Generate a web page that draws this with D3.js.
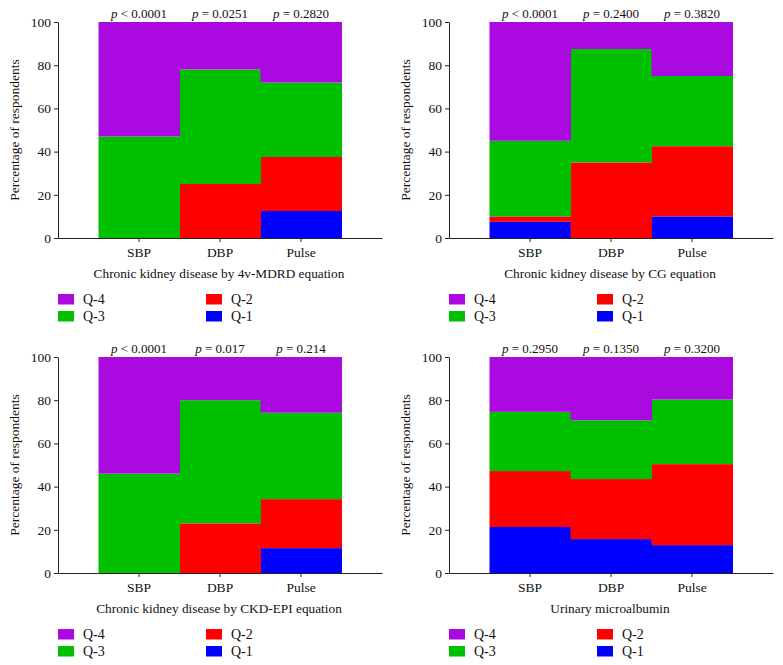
<!DOCTYPE html>
<html>
<head>
<meta charset="utf-8">
<script src="https://cdn.jsdelivr.net/npm/d3@7"></script>
<style>
  body { margin: 0; background: #fff; }
  svg { display: block; }
  svg text { font-family: "Liberation Serif", "Times New Roman", "DejaVu Serif", serif; }
</style>
</head>
<body>
<script>
// categories and quartile groups
const categories = ["SBP", "DBP", "Pulse"];
const quartiles = ["Q-1", "Q-2", "Q-3", "Q-4"];
const yTicks = [0, 20, 40, 60, 80, 100];

// percentages per quartile (SBP, DBP, Pulse)
const mdrdQ1 = [0, 0, 12.5];
const mdrdQ2 = [0, 25, 25];
const mdrdQ3 = [47, 53, 34.5];
const mdrdQ4 = [53, 22, 28];
const mdrdP = ["< 0.0001", "= 0.0251", "= 0.2820"];

const cgQ1 = [7.5, 0, 10];
const cgQ2 = [2.5, 35, 32.5];
const cgQ3 = [35, 52.5, 32.5];
const cgQ4 = [55, 12.5, 25];
const cgP = ["< 0.0001", "= 0.2400", "= 0.3820"];

const epiQ1 = [0, 0, 11.5];
const epiQ2 = [0, 23, 22.7];
const epiQ3 = [46, 57, 40];
const epiQ4 = [54, 20, 25.8];
const epiP = ["< 0.0001", "= 0.017", "= 0.214"];

const uaQ1 = [21.3, 15.7, 12.9];
const uaQ2 = [25.9, 27.8, 37.5];
const uaQ3 = [27.4, 27.2, 29.9];
const uaQ4 = [25.4, 29.3, 19.7];
const uaP = ["= 0.2950", "= 0.1350", "= 0.3200"];

const colors = {"Q-1": "#0000ff", "Q-2": "#ff0000", "Q-3": "#00c000", "Q-4": "#aa0ae0"};

const panels = [
  {dx: 0,   dy: 0,   title: "Chronic kidney disease by 4v-MDRD equation", s: [mdrdQ1, mdrdQ2, mdrdQ3, mdrdQ4], p: mdrdP},
  {dx: 391, dy: 0,   title: "Chronic kidney disease by CG equation",     s: [cgQ1, cgQ2, cgQ3, cgQ4], p: cgP},
  {dx: 0,   dy: 335, title: "Chronic kidney disease by CKD-EPI equation", s: [epiQ1, epiQ2, epiQ3, epiQ4], p: epiP},
  {dx: 391, dy: 335, title: "Urinary microalbumin",                      s: [uaQ1, uaQ2, uaQ3, uaQ4], p: uaP}
];

const svg = d3.select("body").append("svg")
    .attr("width", 783)
    .attr("height", 665);

const x = d3.scaleBand()
    .domain(categories)
    .range([58, 382])
    .paddingInner(0)
    .paddingOuter(0.5);

const y = d3.scaleLinear()
    .domain([0, 100])
    .range([238, 22]);

panels.forEach(function(pn) {
  const g = svg.append("g").attr("transform", `translate(${pn.dx},${pn.dy})`);

  // build rows for the stack
  const rows = categories.map(function(c, i) {
    const r = {cat: c};
    quartiles.forEach((q, j) => r[q] = pn.s[j][i]);
    return r;
  });
  const stacked = d3.stack().keys(quartiles)(rows);

  g.selectAll("g.layer")
    .data(stacked)
    .join("g")
      .attr("class", "layer")
      .attr("fill", d => colors[d.key])
    .selectAll("rect")
    .data(d => d)
    .join("rect")
      .attr("x", d => x(d.data.cat))
      .attr("width", x.bandwidth() + 0.5)
      .attr("y", d => y(d[1]))
      .attr("height", d => y(d[0]) - y(d[1]));

  // axes
  const yAxis = g.append("g")
      .attr("transform", `translate(${x.range()[0]},0)`)
      .call(d3.axisLeft(y).tickValues(yTicks).tickSize(4).tickSizeOuter(0));
  const xAxis = g.append("g")
      .attr("transform", `translate(0,${y(0)})`)
      .call(d3.axisBottom(x).tickSize(4).tickSizeOuter(0));

  [yAxis, xAxis].forEach(function(a) {
    a.attr("font-family", null).attr("font-size", 13.5);
    a.select(".domain").attr("stroke", "#222");
    a.selectAll(".tick line").attr("stroke", "#222");
    a.selectAll(".tick text").attr("fill", "#111");
  });
  yAxis.selectAll(".tick text").attr("x", -7);
  xAxis.selectAll(".tick text").attr("y", 9);

  // y label
  g.append("text")
      .attr("transform", `translate(19,${(y(0) + y(100)) / 2}) rotate(-90)`)
      .attr("text-anchor", "middle")
      .attr("font-size", 13.5)
      .attr("fill", "#111")
      .text("Percentage of respondents");

  // x title
  g.append("text")
      .attr("x", (x.range()[0] + x.range()[1]) / 2 - 1)
      .attr("y", 278)
      .attr("text-anchor", "middle")
      .attr("font-size", 13.3)
      .attr("fill", "#111")
      .text(pn.title);

  // p values
  categories.forEach(function(c, i) {
    const t = g.append("text")
        .attr("x", x(c) + x.bandwidth() / 2)
        .attr("y", 18)
        .attr("text-anchor", "middle")
        .attr("font-size", 13)
        .attr("fill", "#111");
    t.append("tspan").attr("font-style", "italic").text("p");
    t.append("tspan").text(" " + pn.p[i]);
  });

  // legend
  const legendItems = [
    {q: "Q-4", col: 0, row: 0},
    {q: "Q-3", col: 0, row: 1},
    {q: "Q-2", col: 1, row: 0},
    {q: "Q-1", col: 1, row: 1}
  ];
  const lg = g.selectAll("g.leg")
    .data(legendItems)
    .join("g")
      .attr("class", "leg")
      .attr("transform", d => `translate(${58 + d.col * 148},${294 + d.row * 17})`);
  lg.append("rect")
      .attr("width", 16)
      .attr("height", 10.5)
      .attr("fill", d => colors[d.q]);
  lg.append("text")
      .attr("x", 25)
      .attr("y", 10)
      .attr("font-size", 14)
      .attr("fill", "#111")
      .text(d => d.q);
});
</script>
</body>
</html>
